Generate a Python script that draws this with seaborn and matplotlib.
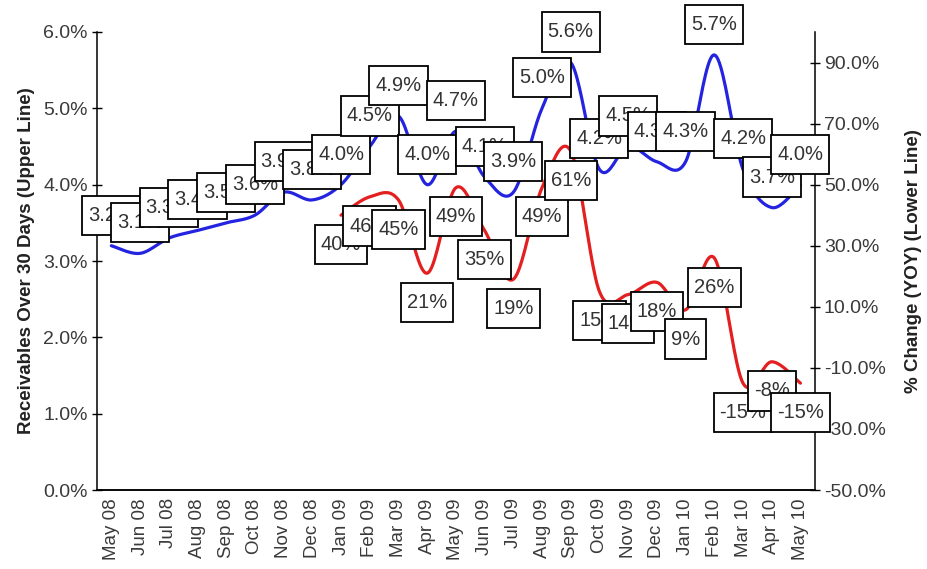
import numpy as np
import pandas as pd
import seaborn as sns
import matplotlib.pyplot as plt
from matplotlib.path import Path

months = ['May 08', 'Jun 08', 'Jul 08', 'Aug 08', 'Sep 08', 'Oct 08', 'Nov 08',
          'Dec 08', 'Jan 09', 'Feb 09', 'Mar 09', 'Apr 09', 'May 09', 'Jun 09',
          'Jul 09', 'Aug 09', 'Sep 09', 'Oct 09', 'Nov 09', 'Dec 09', 'Jan 10',
          'Feb 10', 'Mar 10', 'Apr 10', 'May 10']

# receivables over 30 days, % (upper line)
receivables = [3.2, 3.1, 3.3, 3.4, 3.5, 3.6, 3.9, 3.8, 4.0, 4.5, 4.9, 4.0, 4.7,
               4.1, 3.9, 5.0, 5.6, 4.2, 4.5, 4.3, 4.3, 5.7, 4.2, 3.7, 4.0]

# year over year change, % (lower line), starts Jan 09
yoy_months = months[8:]
yoy_change = [40, 46, 45, 21, 49, 35, 19, 49, 61, 15, 14, 18, 9, 26, -15, -8, -15]

BLUE = '#2424e0'
RED = '#e41f1f'


def smooth(x, y, n=24):
    # excel style smoothed line (catmull-rom / bezier), drawing only
    x = np.asarray(x, float)
    y = np.asarray(y, float)
    px = np.concatenate([[x[0]], x, [x[-1]]])
    py = np.concatenate([[y[0]], y, [y[-1]]])
    xs, ys = [], []
    t = np.linspace(0, 1, n)
    for i in range(1, len(px) - 2):
        x0, x1, x2, x3 = px[i - 1:i + 3]
        y0, y1, y2, y3 = py[i - 1:i + 3]
        cx1, cy1 = x1 + (x2 - x0) / 6, y1 + (y2 - y0) / 6
        cx2, cy2 = x2 - (x3 - x1) / 6, y2 - (y3 - y1) / 6
        b0, b1, b2, b3 = (1 - t) ** 3, 3 * t * (1 - t) ** 2, 3 * t ** 2 * (1 - t), t ** 3
        xs.append(b0 * x1 + b1 * cx1 + b2 * cx2 + b3 * x2)
        ys.append(b0 * y1 + b1 * cy1 + b2 * cy2 + b3 * y2)
    return np.concatenate(xs), np.concatenate(ys)


def label_box(x0, y0, width, height, mutation_size):
    # rectangle with more padding top/bottom than left/right
    px, py = 0.3 * mutation_size, 0.5 * mutation_size
    l, b = x0 - px, y0 - py
    r, t = x0 + width + px, y0 + height + py
    return Path([(l, b), (r, b), (r, t), (l, t), (l, b)], closed=True)


sns.set_style('white')
plt.rcParams['font.family'] = ['Liberation Sans', 'DejaVu Sans']

fig = plt.figure(figsize=(9.28, 5.69), dpi=100)
ax = fig.add_axes([0.1045, 0.1388, 0.7735, 0.805])
ax2 = ax.twinx()

xb = np.arange(len(months))
xr = np.arange(len(months) - len(yoy_months), len(months))

bx, by = smooth(xb, receivables)
rx, ry = smooth(xr, yoy_change)
sns.lineplot(x=bx, y=by, ax=ax, color=BLUE, lw=2.3, sort=False)
sns.lineplot(x=rx, y=ry, ax=ax2, color=RED, lw=2.3, sort=False)

ax.set_xlim(-0.5, len(months) - 0.5)
ax.set_ylim(0, 6)
ax2.set_ylim(-50, 100)
ax.set_yticks(np.arange(0, 7, 1))
ax.set_yticklabels([f'{v:.1f}%' for v in np.arange(0, 7, 1)])
ax2.set_yticks(np.arange(-50, 100, 20))
ax2.set_yticklabels([f'{v:.1f}%' for v in np.arange(-50, 100, 20)])
ax.set_xticks(xb)
ax.set_xticklabels(months, rotation=90)

for a in (ax, ax2):
    for s in a.spines.values():
        s.set_color('black')
        s.set_linewidth(1.1)
    a.spines['top'].set_visible(False)
    a.tick_params(direction='inout', length=7, width=1, colors='black',
                  labelcolor='#3a3a3a', labelsize=14, pad=3)
ax2.spines['left'].set_visible(False)
ax.spines['right'].set_visible(False)
ax.tick_params(axis='x', length=6, pad=3, labelsize=13.5)

ax.set_ylabel('Receivables Over 30 Days (Upper Line)', fontsize=13.5,
              fontweight='bold', color='#222222', labelpad=6)
ax2.set_ylabel('% Change (YOY) (Lower Line)', fontsize=13.5,
               fontweight='bold', color='#222222', labelpad=14)

box = dict(boxstyle=label_box, fc='white', ec='black', lw=1.3)
for i, v in enumerate(receivables):
    ax2.annotate(f'{v:.1f}%', xy=(xb[i], v), xycoords=ax.transData,
                 xytext=(0, 22), textcoords='offset points', ha='center',
                 va='center', fontsize=14.5, color='#333333', bbox=box,
                 annotation_clip=False, zorder=5)
for i, v in enumerate(yoy_change):
    ax2.annotate(f'{v:d}%', xy=(xr[i], v), xycoords='data',
                 xytext=(0, -21), textcoords='offset points', ha='center',
                 va='center', fontsize=14.5, color='#333333', bbox=box,
                 annotation_clip=False, zorder=5)

fig.savefig('out.png', dpi=100)
